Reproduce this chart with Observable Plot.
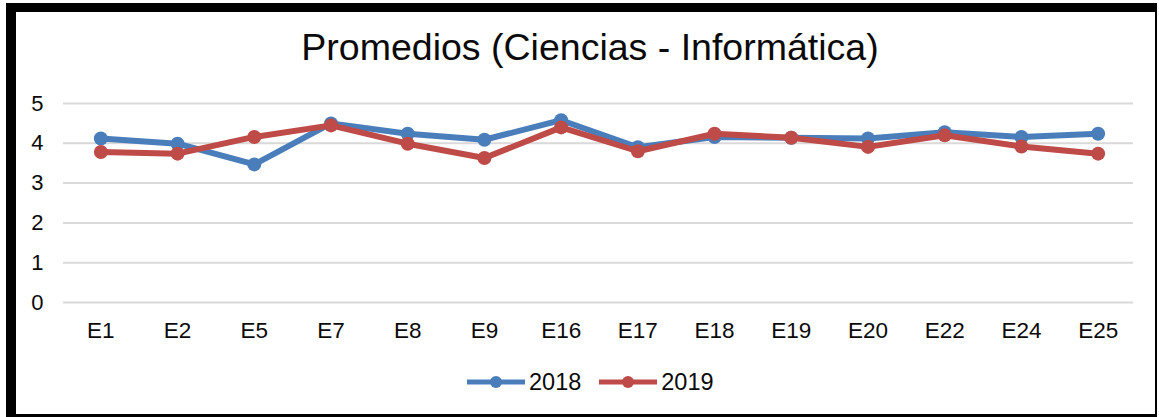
<!DOCTYPE html>
<html>
<head>
<meta charset="utf-8">
<script src="https://cdn.jsdelivr.net/npm/d3@7"></script>
<script src="https://cdn.jsdelivr.net/npm/@observablehq/plot@0.6"></script>
<style>
  html, body { margin: 0; padding: 0; background: #fff; }
  #wrap { position: relative; width: 1159px; height: 417px; overflow: hidden; background: #fff;
          font-family: "Liberation Sans", Arial, sans-serif; color: #111; }
  .bar { position: absolute; background: #000; }
  #title { position: absolute; left: 0; width: 1180px; top: 25px; text-align: center;
           font-size: 37.5px; line-height: 44px; color: #0a0a0a; }
  #chart { position: absolute; left: 0; top: 0; }
  #chart svg text { fill: #0a0a0a; }
  #legend { position: absolute; top: 368px; left: 467px; height: 28px; display: flex; align-items: center;
            font-size: 23.5px; color: #0a0a0a; }
  #legend .item { display: flex; align-items: center; }
  #legend svg { display: block; }
</style>
</head>
<body>
<div id="wrap">
  <div id="title">Promedios (Ciencias - Informática)</div>
  <div id="chart"></div>
  <div id="legend"></div>
  <div class="bar" style="left:6px;top:3px;width:1151px;height:9px"></div>
  <div class="bar" style="left:6px;top:3px;width:10px;height:414px"></div>
  <div class="bar" style="left:1155px;top:3px;width:2px;height:414px"></div>
  <div class="bar" style="left:6px;top:414px;width:1151px;height:3px"></div>
</div>
<script>
const categories = ["E1","E2","E5","E7","E8","E9","E16","E17","E18","E19","E20","E22","E24","E25"];
const v2018 = [4.12, 3.99, 3.47, 4.50, 4.24, 4.09, 4.58, 3.90, 4.16, 4.14, 4.12, 4.28, 4.16, 4.24];
const v2019 = [3.78, 3.74, 4.16, 4.45, 3.99, 3.63, 4.40, 3.80, 4.24, 4.14, 3.91, 4.20, 3.92, 3.74];
const seriesNames = ["2018", "2019"];
const seriesColors = ["#4A7EBB", "#BE4B48"];
const yTicks = [0, 1, 2, 3, 4, 5];

const d2018 = categories.map((c, i) => ({cat: c, value: v2018[i]}));
const d2019 = categories.map((c, i) => ({cat: c, value: v2019[i]}));

const chart = Plot.plot({
  width: 1159,
  height: 360,
  marginLeft: 62,
  marginRight: 23,
  marginTop: 103,
  marginBottom: 58,
  style: {fontFamily: '"Liberation Sans", Arial, sans-serif', fontSize: "22px", background: "transparent", color: "#0a0a0a"},
  x: {type: "point", domain: categories, padding: 0.5, round: false, label: null},
  y: {domain: [0, 5], ticks: yTicks, label: null},
  marks: [
    Plot.ruleY(yTicks, {stroke: "#d9d9d9", strokeWidth: 2, insetLeft: 1, insetRight: 3}),
    Plot.axisY({ticks: yTicks, tickSize: 0, tickPadding: 19, fontSize: 22, label: null, tickFormat: d => String(d)}),
    Plot.axisX({tickSize: 0, tickPadding: 20, fontSize: 22.5, label: null}),
    Plot.line(d2018, {x: "cat", y: "value", stroke: seriesColors[0], strokeWidth: 6}),
    Plot.dot(d2018, {x: "cat", y: "value", fill: seriesColors[0], r: 7}),
    Plot.line(d2019, {x: "cat", y: "value", stroke: seriesColors[1], strokeWidth: 6}),
    Plot.dot(d2019, {x: "cat", y: "value", fill: seriesColors[1], r: 7})
  ]
});
document.getElementById("chart").appendChild(chart);

const legend = document.getElementById("legend");
seriesNames.forEach((name, i) => {
  const item = document.createElement("div");
  item.className = "item";
  item.style.marginRight = i === 0 ? "18px" : "0";
  item.innerHTML = `<svg width="60" height="16"><line x1="0" x2="58" y1="8" y2="8" stroke="${seriesColors[i]}" stroke-width="5"/><circle cx="29" cy="8" r="6" fill="${seriesColors[i]}"/></svg><span style="margin-left:2px">${name}</span>`;
  legend.appendChild(item);
});
</script>
</body>
</html>
